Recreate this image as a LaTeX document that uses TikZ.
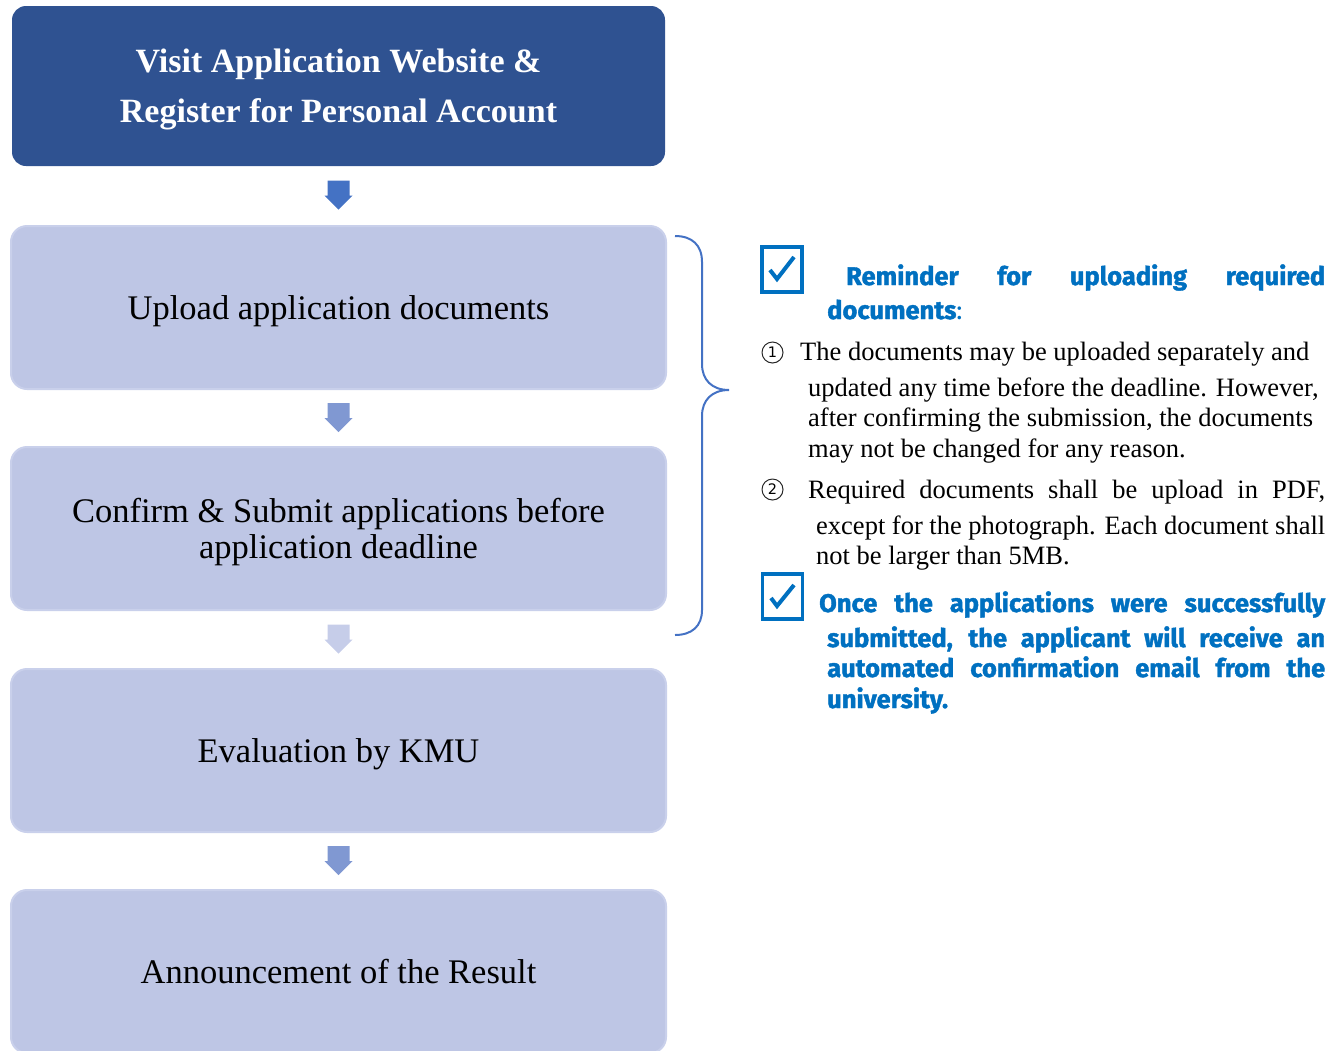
\documentclass[tikz,border=0pt]{standalone}
\usepackage{fontspec}
\setmainfont{Liberation Serif}
\newfontfamily\bluefont{Fira Sans}[BoldFeatures={FakeBold=1.6}]
\newfontfamily\symfont{DejaVu Sans}
\usetikzlibrary{calc}
\definecolor{topblue}{HTML}{2F5291}
\definecolor{lav}{HTML}{BEC6E5}
\definecolor{lavedge}{HTML}{C9D0EB}
\definecolor{arrA}{HTML}{4472C4}
\definecolor{arrB}{HTML}{8098D2}
\definecolor{arrC}{HTML}{C6CDE9}
\definecolor{remblue}{HTML}{0070C0}
\definecolor{bracecol}{HTML}{4472C4}
\newcommand\blockarrow[3]{%
  \coordinate (m#2#3) at ($(#2.south)!0.5!(#3.north)$);
  \fill[#1] ($(m#2#3)+(-11,-15)$) -- ($(m#2#3)+(11,-15)$) -- ($(m#2#3)+(11,0)$) -- ($(m#2#3)+(14,0)$)
    -- ($(m#2#3)+(0,14)$) -- ($(m#2#3)+(-14,0)$) -- ($(m#2#3)+(-11,0)$) -- cycle;}
\begin{document}
\begin{tikzpicture}[x=1pt,y=-1pt,
  topbox/.style={fill=topblue, rounded corners=14pt, minimum width=653pt, minimum height=160pt, inner sep=0pt},
  toptxt/.style={inner sep=0pt, align=center, text=white, font=\bfseries\fontsize{34}{50}\selectfont},
  stepbox/.style={fill=lav, draw=lavedge, line width=2pt, rounded corners=16pt, minimum width=655pt,
    minimum height=163pt, inner sep=0pt, align=center, font=\fontsize{34.5}{36}\selectfont},
  onetxt/.style={text height=23pt, text depth=0pt},
  steptxt/.style={inner sep=0pt, align=center, font=\fontsize{34.5}{36}\selectfont},
  bluetxt/.style={anchor=base west, inner sep=0pt, text=remblue, font=\bluefont\bfseries\fontsize{25.5}{28}\selectfont},
  bodytxt/.style={anchor=base west, inner sep=0pt, font=\fontsize{26.5}{31}\selectfont},
  circnum/.style={circle, draw=black!85, line width=1pt, minimum size=21pt, inner sep=0pt, font=\symfont\fontsize{14.5}{14.5}\selectfont},
  chk/.style={draw=remblue, line width=3.5pt, minimum width=40pt, minimum height=45pt, inner sep=0pt},
  chkmark/.style={draw=remblue, line width=4pt}]
\clip (0,0) rectangle (1343,1050);
\useasboundingbox (0,0) rectangle (1343,1050);

\node[topbox] (b1) at (338.5,86) {};
\node[toptxt] (b1t) at ($(b1.center)+(0,3)$) {Visit Application Website \&\\Register for Personal Account};
\node[stepbox, onetxt] (b2) at (338.5,307.5) {Upload application documents};
\node[stepbox] (b3) at (338.5,528.5) {};
\node[steptxt] (b3t) at ($(b3.center)+(0,4)$) {Confirm \& Submit applications before\\application deadline};
\node[stepbox, onetxt] (b4) at (338.5,750.5) {Evaluation by KMU};
\node[stepbox, onetxt] (b5) at (338.5,971.5) {Announcement of the Result};

\blockarrow{arrA}{b1}{b2}
\blockarrow{arrB}{b2}{b3}
\blockarrow{arrC}{b3}{b4}
\blockarrow{arrB}{b4}{b5}

\draw[bracecol, line width=2pt] (675,236) .. controls (692,236) and (702,245) .. (702,262) -- (702,364)
  .. controls (702,380) and (712,390) .. (729,390) .. controls (712,390) and (702,400) .. (702,416)
  -- (702,610) .. controls (702,626) and (692,635) .. (675,635);

\node[chk] (c1) at (782,269.5) {};
\draw[chkmark] ($(c1)+(-12,0.5)$) -- ($(c1)+(-5,9.5)$) -- ($(c1)+(12,-12.5)$);
\node[bluetxt] (r1) at (846,285) {\makebox[479pt][s]{Reminder for uploading required}};
\node[bluetxt] (r2) at (827,319) {documents{\mdseries:}};

\node[circnum] (n1) at (772.5,352.5) {1};
\node[bodytxt] (t1) at (800,360) {The documents may be uploaded separately and};
\node[bodytxt] (t2) at (808,396) {updated any time before the deadline. However,};
\node[bodytxt] (t3) at (808,426) {after confirming the submission, the documents};
\node[bodytxt] (t4) at (808,457) {may not be changed for any reason.};
\node[circnum] (n2) at (772.5,489.5) {2};
\node[bodytxt] (t5) at (808,498) {\makebox[517pt][s]{Required documents shall be upload in PDF,}};
\node[bodytxt] (t6) at (816,534) {\makebox[509pt][s]{except for the photograph. Each document shall}};
\node[bodytxt] (t7) at (816,564) {not be larger than 5MB.};

\node[chk] (c2) at (782.5,596.5) {};
\draw[chkmark] ($(c2)+(-11.5,1.5)$) -- ($(c2)+(-5.5,9.5)$) -- ($(c2)+(11.5,-11.5)$);
\node[bluetxt] (s1) at (819,612) {\makebox[506pt][s]{Once the applications were successfully}};
\node[bluetxt] (s2) at (827,647) {\makebox[498pt][s]{submitted, the applicant will receive an}};
\node[bluetxt] (s3) at (827,677) {\makebox[498pt][s]{automated confirmation email from the}};
\node[bluetxt] (s4) at (827,708) {university.};
\end{tikzpicture}
\end{document}
